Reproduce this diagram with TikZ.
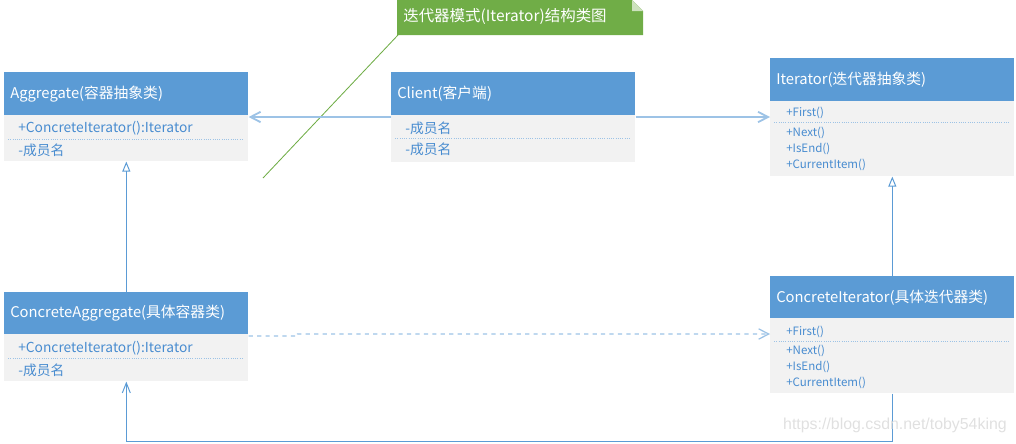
\documentclass[tikz,border=0pt]{standalone}
\usepackage{fontspec}
\setmainfont{Noto Sans CJK SC}
\setsansfont{Liberation Sans}
\usepackage{xcolor}
\usepackage{tikz}
\usetikzlibrary{arrows.meta, positioning}
\definecolor{umlblue}{RGB}{91, 155, 213}
\definecolor{umlgray}{RGB}{242, 242, 242}
\definecolor{umltext}{RGB}{72, 140, 208}
\definecolor{linkblue}{RGB}{157, 195, 230}
\definecolor{notegreen}{RGB}{112, 173, 71}

\begin{document}
\begin{tikzpicture}[x=0.025cm, y=-0.025cm]
\tikzstyle{head} = [rectangle, anchor=north west, minimum width=6.1cm, text width=5.8cm, inner xsep=0.15cm, inner ysep=0pt, align=left, fill=umlblue, text=white, font=\fontsize{10.5}{12}\selectfont]
\tikzstyle{body} = [rectangle, anchor=north west, minimum width=6.1cm, inner sep=0pt, fill=umlgray]
\tikzstyle{member} = [anchor=west, inner sep=0pt, text=umltext, font=\fontsize{9.8}{11}\selectfont]
\tikzstyle{op} = [anchor=west, inner sep=0pt, text=umltext, font=\fontsize{8.2}{9}\selectfont]
\tikzstyle{sep} = [umlblue!60, densely dotted, line width=0.6pt]
\tikzstyle{link} = [linkblue, line width=1.3pt, -{Straight Barb[length=0.25cm, width=0.26cm]}]
\tikzstyle{assoc} = [umlblue, line width=0.7pt, -{Straight Barb[length=0.25cm, width=0.2cm]}]
\tikzstyle{inherit} = [umlblue, line width=0.7pt, -{Triangle[open, length=0.25cm, width=0.2cm]}]
\tikzstyle{depend} = [linkblue, line width=0.9pt, dashed, -{Straight Barb[length=0.25cm, width=0.26cm]}]
\useasboundingbox (0,0) rectangle (1016,443);

% Note
\fill[notegreen] (397,0) -- (632,0) -- (643,11) -- (643,35) -- (397,35) -- cycle;
\fill[notegreen!35] (632,0) -- (632,11) -- (643,11) -- cycle;
\node[anchor=west, inner sep=0pt, text=white, font=\fontsize{11}{13}\selectfont] (title) at (403,17) {迭代器模式(Iterator)结构类图};
\coordinate (tip) at (263,178);
\draw[notegreen, line width=0.6pt] (398,35) -- (tip);

% Aggregate
\node[head, minimum height=1.075cm] (agg) at (4,72) {Aggregate(容器抽象类)};
\node[body, minimum height=1.15cm] (aggb) at (4,115) {};
\node[member] (agg1) at (18,128) {+ConcreteIterator():Iterator};
\node[member] (agg2) at (18,150) {-成员名};
\draw[sep] (8,139) -- (244,139);

% Client
\node[head, minimum height=1.075cm] (cli) at (391,72) {Client(客户端)};
\node[body, minimum height=1.175cm] (clib) at (391,115) {};
\node[member] (cli1) at (405,128) {-成员名};
\node[member] (cli2) at (405,149) {-成员名};
\draw[sep] (395,138) -- (631,138);

% Iterator
\node[head, minimum height=1.075cm] (it) at (770,58) {Iterator(迭代器抽象类)};
\node[body, minimum height=1.875cm] (itb) at (770,101) {};
\node[op] (it1) at (786,113) {+First()};
\node[op] (it2) at (786,133) {+Next()};
\node[op] (it3) at (786,149) {+IsEnd()};
\node[op] (it4) at (786,165) {+CurrentItem()};
\draw[sep] (774,122) -- (1010,122);

% ConcreteAggregate
\node[head, minimum height=1.05cm] (cagg) at (4,292) {ConcreteAggregate(具体容器类)};
\node[body, minimum height=1.175cm] (caggb) at (4,334) {};
\node[member] (cagg1) at (18,348) {+ConcreteIterator():Iterator};
\node[member] (cagg2) at (18,370) {-成员名};
\draw[sep] (8,358) -- (244,358);

% ConcreteIterator
\node[head, minimum height=1.05cm] (cit) at (770,276) {ConcreteIterator(具体迭代器类)};
\node[body, minimum height=1.875cm] (citb) at (770,318) {};
\node[op] (cit1) at (786,332) {+First()};
\node[op] (cit2) at (786,351) {+Next()};
\node[op] (cit3) at (786,367) {+IsEnd()};
\node[op] (cit4) at (786,383) {+CurrentItem()};
\draw[sep] (774,341) -- (1010,341);

% Arrows
\draw[link] ([yshift=-0.05cm]clib.north west) -- ([yshift=-0.05cm]clib.north west -| aggb.east);
\draw[link] ([yshift=-0.05cm]clib.north east) -- ([yshift=-0.05cm]clib.north east -| itb.west);
\draw[inherit] (cagg.north) -- (aggb.south);
\draw[inherit] (cit.north) -- (itb.south);
\draw[depend] ([yshift=-0.05cm]caggb.north east) -- ++(49,0) -- ++(0,-2) -- (citb.west |- caggb.north east);
\draw[assoc] (citb.south) -- ++(0,48) -| (caggb.south);

% Watermark
\node[anchor=east, inner sep=0pt, text=black!12, font=\sffamily\fontsize{11.3}{13}\selectfont] (stamp) at (1007,425) {https://blog.csdn.net/toby54king};
\end{tikzpicture}
\end{document}
